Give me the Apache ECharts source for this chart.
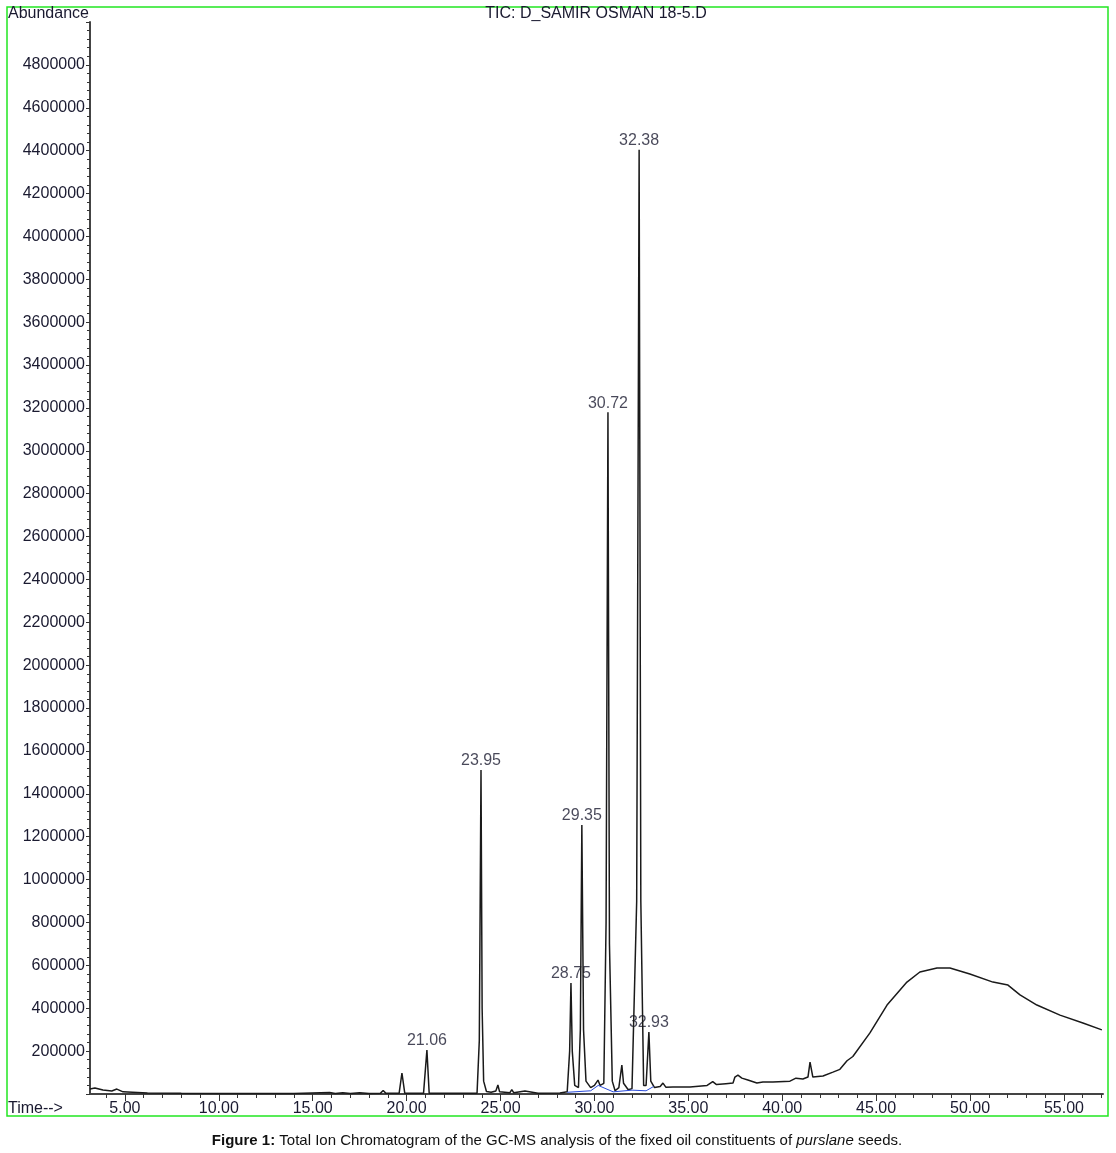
<!DOCTYPE html>
<html>
<head>
<meta charset="utf-8">
<title>TIC chromatogram</title>
<script src="https://cdn.jsdelivr.net/npm/echarts@6/dist/echarts.min.js"></script>
<style>
  html, body { margin: 0; padding: 0; background: #fff; }
  #chart { width: 1116px; height: 1153px; }
</style>
</head>
<body>
<div id="chart"></div>
<script>
// retention time (min) and abundance
const traceTime = [
  3.14, 3.4, 3.83, 4.3, 4.57, 4.9, 5.4, 6.2, 8.0, 10.0, 12.0, 14.0,
  15.9, 16.2, 16.6, 17.0, 17.5, 18.0, 18.6, 18.75, 18.9, 19.6, 19.75, 19.9,
  20.9, 21.08, 21.2, 22.5, 23.75, 23.87, 23.96, 24.02, 24.1, 24.25, 24.5, 24.75,
  24.86, 24.95, 25.5, 25.6, 25.7, 26.3, 26.4, 27.0, 28.16, 28.55, 28.68, 28.75,
  28.82, 28.95, 29.15, 29.25, 29.33, 29.42, 29.55, 29.8, 30.0, 30.19, 30.3, 30.5,
  30.62, 30.72, 30.8, 30.95, 31.1, 31.3, 31.46, 31.55, 31.65, 31.8, 32.0, 32.25,
  32.38, 32.47, 32.62, 32.75, 32.9, 33.0, 33.2, 33.5, 33.65, 33.8, 34.18, 35.09,
  36.0, 36.3, 36.5, 37.0, 37.38, 37.48, 37.64, 37.85, 38.17, 38.65, 38.97, 39.5,
  40.41, 40.73, 41.1, 41.37, 41.48, 41.63, 42.17, 42.7, 43.07, 43.45, 43.76, 44.67,
  45.58, 46.64, 47.33, 48.24, 48.93, 49.99, 51.22, 52.02, 52.66, 53.56, 54.79, 56.01,
  57.02
];
const traceAbund = [
  23000, 28000, 19000, 14000, 23000, 10000, 8000, 4500, 3000, 2500, 2500, 2000,
  7000, 2000, 6000, 2000, 6000, 2000, 3000, 16000, 3000, 3000, 98000, 4000,
  3000, 205000, 4000, 3500, 4000, 250000, 1511000, 400000, 60000, 12000, 8000, 14000,
  42000, 10000, 6000, 20000, 6000, 14000, 6000, 4000, 5000, 10000, 200000, 518000,
  200000, 40000, 30000, 300000, 1255000, 300000, 60000, 30000, 40000, 65000, 40000, 50000,
  800000, 3180000, 700000, 60000, 15000, 30000, 135000, 50000, 55000, 20000, 25000, 900000,
  4404000, 900000, 40000, 40000, 289000, 60000, 30000, 35000, 51000, 32000, 33000, 33000,
  40000, 58000, 44000, 48000, 51000, 79000, 88000, 74000, 65000, 51000, 56000, 56000,
  60000, 74000, 70000, 79000, 149000, 79000, 84000, 102000, 115000, 155000, 175000, 285000,
  415000, 522000, 569000, 588000, 588000, 560000, 522000, 508000, 462000, 415000, 368000, 331000,
  299000
];

// integration baseline (blue) under the main cluster
const baseTime = [28.55, 29.8, 30.2, 31.0, 32.0, 32.75, 33.15];
const baseAbund = [8000, 15000, 40000, 10000, 18000, 15000, 35000];

// labelled peaks
const peakTime = [21.08, 23.96, 28.75, 29.33, 30.72, 32.38, 32.9];
const peakAbund = [205000, 1511000, 518000, 1255000, 3180000, 4404000, 289000];
const peakLabels = ['21.06', '23.95', '28.75', '29.35', '30.72', '32.38', '32.93'];

// axis ticks
const xLabelValues = [5, 10, 15, 20, 25, 30, 35, 40, 45, 50, 55];
const xMinorTicks = [];
for (let t = 4; t <= 57; t++) xMinorTicks.push(t);

const fontFam = '"Liberation Sans", Arial, sans-serif';
const textCol = '#1a1a30';

let myChart = echarts.init(document.getElementById('chart'));

let option = {
  animation: false,
  backgroundColor: '#fff',
  grid: {
    left: 90,
    right: 13,
    top: 22,
    bottom: 59,
    containLabel: false
  },
  xAxis: [
    {
      type: 'value',
      min: 3.14,
      max: 57.08,
      position: 'bottom',
      axisLine: { show: true, lineStyle: { color: '#444', width: 2 } },
      axisTick: { show: true, length: 4, customValues: xMinorTicks, lineStyle: { color: '#333', width: 1 } },
      axisLabel: {
        show: true,
        customValues: xLabelValues,
        formatter: function (v) { return v.toFixed(2); },
        color: textCol,
        fontSize: 16,
        fontFamily: fontFam,
        margin: 7
      },
      splitLine: { show: false }
    },
    {
      // longer ticks at labelled times
      type: 'value',
      min: 3.14,
      max: 57.08,
      position: 'bottom',
      axisLine: { show: false },
      axisTick: { show: true, length: 7, customValues: xLabelValues, lineStyle: { color: '#333', width: 1 } },
      axisLabel: { show: false },
      splitLine: { show: false }
    }
  ],
  yAxis: {
    type: 'value',
    min: 0,
    max: 5000000,
    interval: 200000,
    axisLine: { show: true, lineStyle: { color: '#444', width: 2 } },
    axisTick: { show: true, length: 4, lineStyle: { color: '#333' } },
    minorTick: { show: true, splitNumber: 5, length: 3, lineStyle: { color: '#333' } },
    axisLabel: {
      showMinLabel: false,
      showMaxLabel: false,
      formatter: function (v) { return String(v); },
      color: textCol,
      fontSize: 16,
      fontFamily: fontFam,
      margin: 5
    },
    splitLine: { show: false }
  },
  series: [
    {
      name: 'TIC',
      type: 'line',
      xAxisIndex: 0,
      showSymbol: false,
      data: traceTime.map((t, i) => [t, traceAbund[i]]),
      lineStyle: { color: '#1a1a1a', width: 1.5 }
    },
    {
      name: 'baseline',
      type: 'line',
      xAxisIndex: 0,
      showSymbol: false,
      data: baseTime.map((t, i) => [t, baseAbund[i]]),
      lineStyle: { color: '#2a4bd8', width: 1 }
    },
    {
      name: 'peaks',
      type: 'scatter',
      xAxisIndex: 0,
      symbolSize: 0,
      data: peakTime.map((t, i) => [t, peakAbund[i]]),
      label: {
        show: true,
        position: 'top',
        distance: 1,
        formatter: function (p) { return peakLabels[p.dataIndex]; },
        color: textCol,
        fontSize: 16,
        fontFamily: fontFam
      }
    }
  ],
  graphic: [
    {
      type: 'rect',
      shape: { x: 7, y: 7, width: 1101, height: 1109 },
      style: { fill: 'none', stroke: '#22e622', lineWidth: 1.5 },
      silent: true
    },
    {
      type: 'text',
      x: 8, y: 6,
      style: { text: 'Abundance', fill: textCol, font: '16px ' + fontFam }
    },
    {
      type: 'text',
      x: 596, y: 6,
      style: { text: 'TIC: D_SAMIR OSMAN 18-5.D', fill: textCol, font: '16px ' + fontFam, align: 'center' }
    },
    {
      type: 'text',
      x: 8, y: 1101,
      style: { text: 'Time-->', fill: textCol, font: '16px ' + fontFam }
    },
    {
      type: 'text',
      x: 557, y: 1133,
      style: {
        text: '{b|Figure 1:} Total Ion Chromatogram of the GC-MS analysis of the fixed oil constituents of {i|purslane} seeds.',
        align: 'center',
        fill: '#111',
        font: '15px ' + fontFam,
        rich: {
          b: { fontWeight: 'bold', fontSize: 15, fontFamily: fontFam, fill: '#111' },
          i: { fontStyle: 'italic', fontSize: 15, fontFamily: fontFam, fill: '#111' }
        }
      }
    }
  ]
};

myChart.setOption(option);
window.addEventListener('resize', function () { myChart.resize(); });
</script>
</body>
</html>
